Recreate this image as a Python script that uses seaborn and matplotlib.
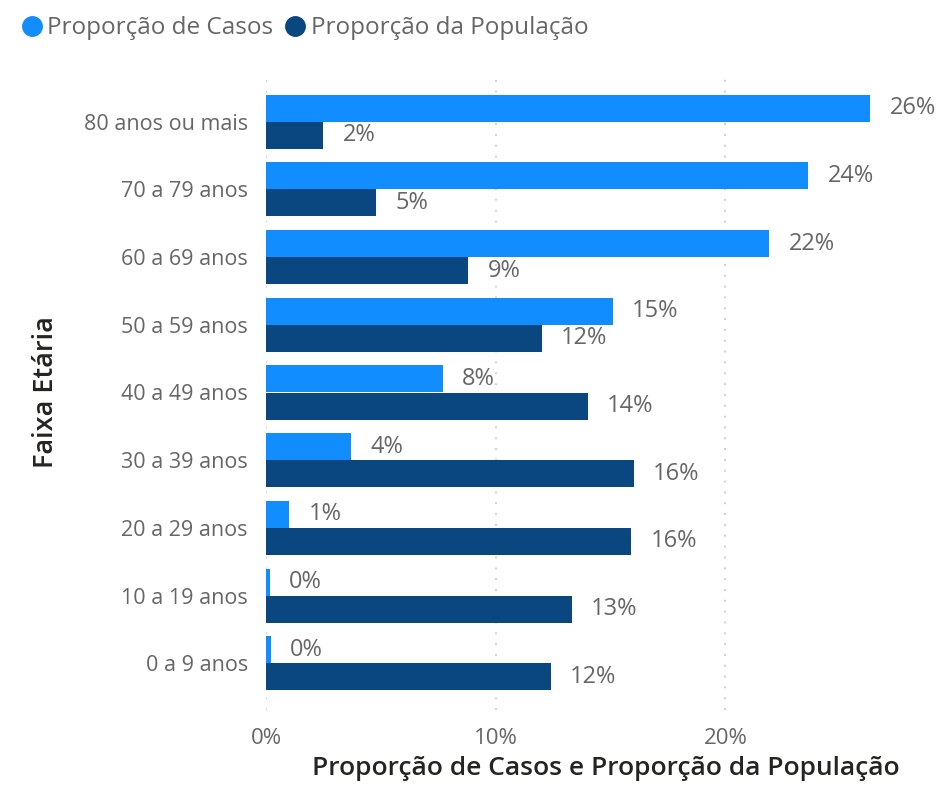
import matplotlib
matplotlib.use("Agg")
import matplotlib.pyplot as plt
import seaborn as sns
import pandas as pd
from matplotlib.lines import Line2D

faixas = ["80 anos ou mais", "70 a 79 anos", "60 a 69 anos", "50 a 59 anos",
          "40 a 49 anos", "30 a 39 anos", "20 a 29 anos", "10 a 19 anos", "0 a 9 anos"]
casos = [26.3, 23.6, 21.9, 15.1, 7.7, 3.7, 1.0, 0.17, 0.2]
populacao = [2.5, 4.8, 8.8, 12.0, 14.0, 16.0, 15.9, 13.3, 12.4]
series = ["Proporção de Casos", "Proporção da População"]
xticks = [0, 10, 20]
xticklabels = ["0%", "10%", "20%"]

df = pd.DataFrame({
    "Faixa Etária": faixas * 2,
    "valor": casos + populacao,
    "serie": [series[0]] * len(faixas) + [series[1]] * len(faixas),
})

sns.set_theme(style="white")
plt.rcParams["font.family"] = ["Open Sans", "DejaVu Sans"]

colors = ["#118DFF", "#0A4780"]
fig = plt.figure(figsize=(9.42, 7.86), dpi=100)
ax = fig.add_axes([266 / 942, 1 - 710 / 786, 634 / 942, 635 / 786])

sns.barplot(data=df, y="Faixa Etária", x="valor", hue="serie", order=faixas,
            hue_order=series, palette=colors, orient="h", width=0.8,
            saturation=1, ax=ax, legend=False, linewidth=0)

for cont in ax.containers:
    ax.bar_label(cont, labels=[f"{v:.0f}%" for v in cont.datavalues], padding=14,
                 fontsize=17, color="#666666")

ax.set_xlim(0, 27.6)
ax.set_ylim(len(faixas) - 1 + 0.69, -0.69)
ax.set_xticks(xticks)
ax.set_xticklabels(xticklabels, fontsize=16, color="#666666")
ax.tick_params(axis="y", labelsize=15.5, labelcolor="#666666", length=0, pad=13)
ax.tick_params(axis="x", length=0, pad=13)
for x in xticks:
    ax.axvline(x, color="#C8C8C8", linestyle=(0, (1, 5)), linewidth=1.3, zorder=0)
for s in ax.spines.values():
    s.set_visible(False)

ax.set_xlabel("Proporção de Casos e Proporção da População", fontsize=19,
              fontweight="semibold", color="#252423", labelpad=5, loc="right")
ax.set_ylabel("Faixa Etária", fontsize=19.5, fontweight="semibold",
              color="#252423", labelpad=17)

handles = [Line2D([], [], marker="o", linestyle="", markersize=14, color=c) for c in colors]
fig.legend(handles, series, loc="upper left", bbox_to_anchor=(0.0, 1.004), ncol=2,
           frameon=False, fontsize=17.5, labelcolor="#666666", handlelength=1.0,
           handletextpad=0.15, columnspacing=0.4, borderpad=0.3)

fig.savefig("out.png", dpi=100)
